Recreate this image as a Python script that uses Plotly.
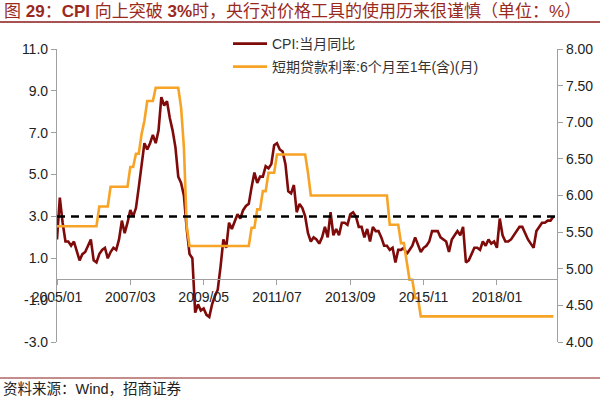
import plotly.graph_objects as go
from plotly.subplots import make_subplots

# ---------------- data ----------------
years = list(range(2005, 2020))
cpi_by_year = {
    2005: [1.9, 3.9, 2.7, 1.8, 1.8, 1.6, 1.8, 1.3, 0.9, 1.2, 1.3, 1.6],
    2006: [1.9, 0.9, 0.8, 1.2, 1.4, 1.5, 1.0, 1.3, 1.5, 1.4, 1.9, 2.8],
    2007: [2.2, 2.7, 3.3, 3.0, 3.4, 4.4, 5.6, 6.5, 6.2, 6.5, 6.9, 6.5],
    2008: [7.1, 8.7, 8.3, 8.5, 7.7, 7.1, 6.3, 4.9, 4.6, 4.0, 2.4, 1.2],
    2009: [1.0, -1.6, -1.2, -1.5, -1.4, -1.7, -1.8, -1.2, -0.8, -0.5, 0.6, 1.9],
    2010: [1.5, 2.7, 2.4, 2.8, 3.1, 2.9, 3.3, 3.5, 3.6, 4.4, 5.1, 4.6],
    2011: [4.9, 4.9, 5.4, 5.3, 5.5, 6.4, 6.5, 6.2, 6.1, 5.5, 4.2, 4.1],
    2012: [4.5, 3.2, 3.6, 3.4, 3.0, 2.2, 1.8, 2.0, 1.9, 1.7, 2.0, 2.5],
    2013: [2.0, 3.2, 2.1, 2.4, 2.1, 2.7, 2.7, 2.6, 3.1, 3.2, 3.0, 2.5],
    2014: [2.5, 2.0, 2.4, 1.8, 2.5, 2.3, 2.3, 2.0, 1.6, 1.6, 1.4, 1.5],
    2015: [0.8, 1.4, 1.4, 1.5, 1.2, 1.4, 1.6, 2.0, 1.6, 1.3, 1.5, 1.6],
    2016: [1.8, 2.3, 2.3, 2.3, 2.0, 1.9, 1.8, 1.3, 1.9, 2.1, 2.3, 2.1],
    2017: [2.5, 0.8, 0.9, 1.2, 1.5, 1.5, 1.4, 1.8, 1.6, 1.9, 1.7, 1.8],
    2018: [1.5, 2.9, 2.1, 1.8, 1.8, 1.9, 2.1, 2.3, 2.5, 2.5, 2.2, 1.9],
    2019: [1.7, 1.5, 2.3, 2.5, 2.7, 2.7, 2.8, 2.8, 3.0],
}
months = [f"{y}/{m:02d}" for y in years for m in range(1, len(cpi_by_year[y]) + 1)]
cpi = [v for y in years for v in cpi_by_year[y]]

# benchmark lending rate (6 months - 1 year), month-end values: (first month, rate)
rate_changes = [
    ("2005/01", 5.58), ("2006/04", 5.85), ("2006/08", 6.12), ("2007/03", 6.39),
    ("2007/05", 6.57), ("2007/07", 6.84), ("2007/08", 7.02), ("2007/09", 7.29),
    ("2007/12", 7.47), ("2008/09", 7.20), ("2008/10", 6.66), ("2008/11", 5.58),
    ("2008/12", 5.31), ("2010/10", 5.56), ("2010/12", 5.81), ("2011/02", 6.06),
    ("2011/04", 6.31), ("2011/07", 6.56), ("2012/06", 6.31), ("2012/07", 6.00),
    ("2014/11", 5.60), ("2015/03", 5.35), ("2015/05", 5.10), ("2015/06", 4.85),
    ("2015/08", 4.60), ("2015/10", 4.35),
]
change_map = dict(rate_changes)
loan_rate = []
cur = None
for m in months:
    if m in change_map:
        cur = change_map[m]
    loan_rate.append(cur)

threshold = 3.0
x_ticks = ["2005/01", "2007/03", "2009/05", "2011/07", "2013/09", "2015/11", "2018/01"]
left_ticks = [-3.0, -1.0, 1.0, 3.0, 5.0, 7.0, 9.0, 11.0]
right_ticks = [4.0, 4.5, 5.0, 5.5, 6.0, 6.5, 7.0, 7.5, 8.0]

name_cpi = "CPI:当月同比"
name_rate = "短期贷款利率:6个月至1年(含)(月)"
title_text = ("图 <b>29</b>：<b>CPI</b> 向上突破 <b>3%</b>时，央行对价格工具的使用历来很谨慎（单位：%）")
source_text = "资料来源：Wind，招商证券"

# ---------------- figure ----------------
FONT = "Liberation Sans, Arial, Noto Sans CJK SC, sans-serif"
W, H = 600, 398
L, R, T, B = 57, 43, 49, 56
pw, ph = W - L - R, H - T - B

def px(xp):
    return (xp - L) / pw

def py(yp):
    return (H - B - yp) / ph

fig = make_subplots(specs=[[{"secondary_y": True}]])

fig.add_trace(go.Scatter(
    x=months, y=cpi, name=name_cpi, mode="lines",
    line=dict(color="#7F0A0A", width=2.6), legend="legend"),
    secondary_y=False)
fig.add_trace(go.Scatter(
    x=months, y=loan_rate, name=name_rate, mode="lines",
    line=dict(color="#F7A325", width=2.6), legend="legend2"),
    secondary_y=True)

fig.add_shape(type="line", xref="paper", yref="y", x0=0, x1=1, y0=threshold, y1=threshold,
              line=dict(color="black", width=2.4, dash="8px,6px"), layer="above")

# title & source with rules
fig.add_shape(type="line", xref="paper", yref="paper", x0=px(0), x1=px(600), y0=py(22), y1=py(22),
              line=dict(color="#8B1A1A", width=1.5))
fig.add_shape(type="line", xref="paper", yref="paper", x0=px(0), x1=px(600), y0=py(378), y1=py(378),
              line=dict(color="#8B1A1A", width=1.2))
fig.add_annotation(text=title_text, xref="paper", yref="paper", x=px(2), y=py(11),
                   xanchor="left", yanchor="middle", showarrow=False,
                   font=dict(family=FONT, size=17, color="#9A2A1E"))
fig.add_annotation(text=source_text, xref="paper", yref="paper", x=px(1), y=py(389),
                   xanchor="left", yanchor="middle", showarrow=False,
                   font=dict(family=FONT, size=14.5, color="#222222"))

axis_gray = "#A0A0A0"
tick_font = dict(family=FONT, size=14, color="#222222")

fig.update_xaxes(
    type="category", range=[0, 177.3], domain=[0, 1], tickmode="array", tickvals=x_ticks,
    ticktext=x_ticks, showgrid=False, showline=True, linecolor=axis_gray, linewidth=1.2,
    ticks="outside", ticklen=5, tickcolor=axis_gray, tickfont=tick_font,
    anchor="free", position=3 / 14, zeroline=False)
fig.update_yaxes(
    range=[-3, 11], tickmode="array", tickvals=left_ticks,
    ticktext=[f"{v:.1f}" for v in left_ticks], showgrid=False, zeroline=False,
    showline=True, linecolor=axis_gray, linewidth=1.2, ticks="outside", ticklen=5,
    tickcolor=axis_gray, tickfont=tick_font, secondary_y=False)
fig.update_yaxes(
    range=[4, 8], tickmode="array", tickvals=right_ticks,
    ticktext=[f"{v:.2f}" for v in right_ticks], showgrid=False, zeroline=False,
    showline=True, linecolor=axis_gray, linewidth=1.2, ticks="outside", ticklen=5,
    tickcolor=axis_gray, tickfont=tick_font, secondary_y=True)

legend_font = dict(family=FONT, size=14, color="#333333")
fig.update_layout(
    width=W, height=H, margin=dict(l=L, r=R, t=T, b=B, autoexpand=False),
    paper_bgcolor="white", plot_bgcolor="white",
    showlegend=True,
    legend=dict(x=px(228), y=py(44), xanchor="left", yanchor="middle",
                bgcolor="rgba(0,0,0,0)", font=legend_font, itemwidth=34),
    legend2=dict(x=px(228), y=py(67), xanchor="left", yanchor="middle",
                 bgcolor="rgba(0,0,0,0)", font=legend_font, itemwidth=34),
)

fig.write_html("out.html", config={"displayModeBar": False},
               post_script="document.body.style.margin='0';document.body.style.overflow='hidden';")
